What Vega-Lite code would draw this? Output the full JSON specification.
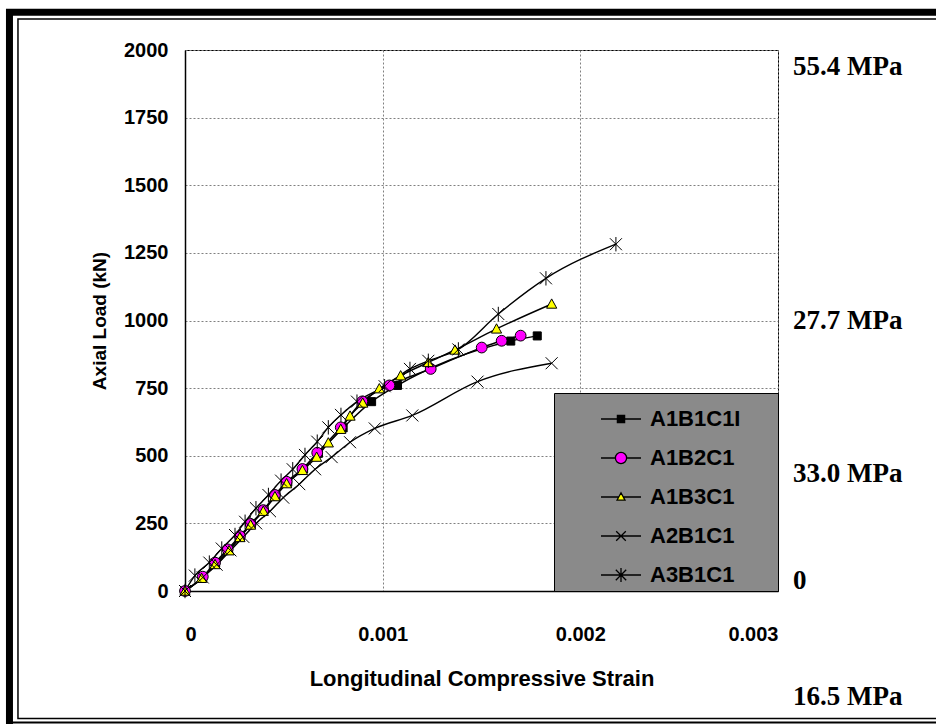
{
  "$schema": "https://vega.github.io/schema/vega-lite/v6.json",
  "width": 593,
  "height": 541,
  "autosize": {"type": "none"},
  "padding": {"left": 185, "top": 50, "right": 158, "bottom": 133},
  "background": "white",
  "datasets": {
    "tests": [
      {"series": "A1B1C1I", "strain": 0, "load": 0},
      {"series": "A1B1C1I", "strain": 0.00009, "load": 50},
      {"series": "A1B1C1I", "strain": 0.000155, "load": 103},
      {"series": "A1B1C1I", "strain": 0.00022, "load": 152},
      {"series": "A1B1C1I", "strain": 0.00028, "load": 201},
      {"series": "A1B1C1I", "strain": 0.000336, "load": 249},
      {"series": "A1B1C1I", "strain": 0.0004, "load": 300},
      {"series": "A1B1C1I", "strain": 0.00046, "load": 352},
      {"series": "A1B1C1I", "strain": 0.00052, "load": 402},
      {"series": "A1B1C1I", "strain": 0.0006, "load": 451},
      {"series": "A1B1C1I", "strain": 0.000675, "load": 509},
      {"series": "A1B1C1I", "strain": 0.0008, "load": 603},
      {"series": "A1B1C1I", "strain": 0.000944, "load": 700},
      {"series": "A1B1C1I", "strain": 0.001075, "load": 760},
      {"series": "A1B1C1I", "strain": 0.001648, "load": 924},
      {"series": "A1B1C1I", "strain": 0.001782, "load": 943},
      {"series": "A1B2C1", "strain": 0, "load": 0},
      {"series": "A1B2C1", "strain": 0.00009, "load": 53},
      {"series": "A1B2C1", "strain": 0.000152, "load": 105},
      {"series": "A1B2C1", "strain": 0.000216, "load": 154},
      {"series": "A1B2C1", "strain": 0.000278, "load": 203},
      {"series": "A1B2C1", "strain": 0.000332, "load": 248},
      {"series": "A1B2C1", "strain": 0.000396, "load": 299},
      {"series": "A1B2C1", "strain": 0.000455, "load": 355},
      {"series": "A1B2C1", "strain": 0.000514, "load": 404},
      {"series": "A1B2C1", "strain": 0.000594, "load": 451},
      {"series": "A1B2C1", "strain": 0.000669, "load": 511},
      {"series": "A1B2C1", "strain": 0.000788, "load": 605},
      {"series": "A1B2C1", "strain": 0.000897, "load": 701},
      {"series": "A1B2C1", "strain": 0.001034, "load": 760},
      {"series": "A1B2C1", "strain": 0.001243, "load": 821},
      {"series": "A1B2C1", "strain": 0.001501, "load": 900},
      {"series": "A1B2C1", "strain": 0.001602, "load": 925},
      {"series": "A1B2C1", "strain": 0.001698, "load": 944},
      {"series": "A1B3C1", "strain": 0, "load": 0},
      {"series": "A1B3C1", "strain": 0.000084, "load": 47},
      {"series": "A1B3C1", "strain": 0.000152, "load": 98},
      {"series": "A1B3C1", "strain": 0.000223, "load": 149},
      {"series": "A1B3C1", "strain": 0.000278, "load": 198},
      {"series": "A1B3C1", "strain": 0.000332, "load": 244},
      {"series": "A1B3C1", "strain": 0.000396, "load": 295},
      {"series": "A1B3C1", "strain": 0.000455, "load": 349},
      {"series": "A1B3C1", "strain": 0.000514, "load": 397},
      {"series": "A1B3C1", "strain": 0.000594, "load": 446},
      {"series": "A1B3C1", "strain": 0.000666, "load": 495},
      {"series": "A1B3C1", "strain": 0.000725, "load": 548},
      {"series": "A1B3C1", "strain": 0.000788, "load": 598},
      {"series": "A1B3C1", "strain": 0.000835, "load": 647},
      {"series": "A1B3C1", "strain": 0.000899, "load": 695},
      {"series": "A1B3C1", "strain": 0.000983, "load": 748},
      {"series": "A1B3C1", "strain": 0.001091, "load": 796},
      {"series": "A1B3C1", "strain": 0.001231, "load": 845},
      {"series": "A1B3C1", "strain": 0.001366, "load": 891},
      {"series": "A1B3C1", "strain": 0.001576, "load": 969},
      {"series": "A1B3C1", "strain": 0.001855, "load": 1061},
      {"series": "A2B1C1", "strain": 0, "load": 0},
      {"series": "A2B1C1", "strain": 0.00009, "load": 50},
      {"series": "A2B1C1", "strain": 0.00016, "load": 97},
      {"series": "A2B1C1", "strain": 0.00023, "load": 150},
      {"series": "A2B1C1", "strain": 0.000295, "load": 200},
      {"series": "A2B1C1", "strain": 0.00036, "load": 250},
      {"series": "A2B1C1", "strain": 0.00043, "load": 295},
      {"series": "A2B1C1", "strain": 0.000497, "load": 345},
      {"series": "A2B1C1", "strain": 0.000578, "load": 395},
      {"series": "A2B1C1", "strain": 0.000658, "load": 450},
      {"series": "A2B1C1", "strain": 0.000742, "load": 495},
      {"series": "A2B1C1", "strain": 0.000835, "load": 550},
      {"series": "A2B1C1", "strain": 0.00096, "load": 601},
      {"series": "A2B1C1", "strain": 0.00115, "load": 649},
      {"series": "A2B1C1", "strain": 0.00148, "load": 774},
      {"series": "A2B1C1", "strain": 0.001855, "load": 842},
      {"series": "A3B1C1", "strain": 0, "load": 0},
      {"series": "A3B1C1", "strain": 0.00005, "load": 57},
      {"series": "A3B1C1", "strain": 0.000123, "load": 105},
      {"series": "A3B1C1", "strain": 0.000186, "load": 157},
      {"series": "A3B1C1", "strain": 0.000253, "load": 207},
      {"series": "A3B1C1", "strain": 0.000304, "load": 256},
      {"series": "A3B1C1", "strain": 0.000359, "load": 306},
      {"series": "A3B1C1", "strain": 0.000422, "load": 355},
      {"series": "A3B1C1", "strain": 0.000486, "load": 408},
      {"series": "A3B1C1", "strain": 0.000545, "load": 450},
      {"series": "A3B1C1", "strain": 0.000607, "load": 503},
      {"series": "A3B1C1", "strain": 0.000669, "load": 552},
      {"series": "A3B1C1", "strain": 0.000725, "load": 605},
      {"series": "A3B1C1", "strain": 0.000789, "load": 651},
      {"series": "A3B1C1", "strain": 0.00087, "load": 700},
      {"series": "A3B1C1", "strain": 0.00101, "load": 757},
      {"series": "A3B1C1", "strain": 0.001138, "load": 821},
      {"series": "A3B1C1", "strain": 0.001231, "load": 851},
      {"series": "A3B1C1", "strain": 0.001383, "load": 893},
      {"series": "A3B1C1", "strain": 0.001585, "load": 1024},
      {"series": "A3B1C1", "strain": 0.001826, "load": 1156},
      {"series": "A3B1C1", "strain": 0.00218, "load": 1282}
    ],
    "stress": [
      {"strain": 0.003, "load": 1937, "label": "55.4 MPa"},
      {"strain": 0.003, "load": 998, "label": "27.7 MPa"},
      {"strain": 0.003, "load": 432, "label": "33.0 MPa"},
      {"strain": 0.003, "load": 37, "label": "0"},
      {"strain": 0.003, "load": -392, "label": "16.5 MPa"}
    ]
  },
  "layer": [
    {
      "data": {"name": "tests"},
      "mark": {"type": "line", "color": "black", "strokeWidth": 1.4, "interpolate": "monotone"},
      "encoding": {
        "x": {
          "field": "strain", "type": "quantitative",
          "scale": {"domain": [0, 0.003], "nice": false, "zero": false},
          "axis": {
            "title": "Longitudinal Compressive Strain",
            "values": [0, 0.001, 0.002, 0.003],
            "labelExpr": "datum.value == 0 ? '0' : format(datum.value, '.3f')",
            "labelFontSize": 20,
            "labelPadding": 33,
            "titleFontSize": 22,
            "titlePadding": 24,
            "grid": true,
            "gridDash": [2, 2]
          }
        },
        "y": {
          "field": "load", "type": "quantitative",
          "scale": {"domain": [0, 2000], "nice": false},
          "axis": {
            "title": "Axial Load (kN)",
            "values": [0, 250, 500, 750, 1000, 1250, 1500, 1750, 2000],
            "format": "d",
            "labelFontSize": 20,
            "labelPadding": 17,
            "titleFontSize": 19,
            "titlePadding": 14,
            "grid": true,
            "gridDash": [2, 2]
          }
        },
        "detail": {"field": "series"}
      }
    },
    {
      "data": {"name": "tests"},
      "transform": [{"filter": "datum.series === 'A1B1C1I'"}],
      "mark": {"type": "point", "shape": "M-0.67,-0.67H0.67V0.67H-0.67Z", "filled": true, "fill": "#000000", "stroke": "black", "strokeWidth": 1, "opacity": 1, "size": 144},
      "encoding": {
        "x": {"field": "strain", "type": "quantitative"},
        "y": {"field": "load", "type": "quantitative"}
      }
    },
    {
      "data": {"name": "tests"},
      "transform": [{"filter": "datum.series === 'A1B2C1'"}],
      "mark": {"type": "point", "shape": "M-0.9,0A0.9,0.9,0,1,1,0.9,0A0.9,0.9,0,1,1,-0.9,0Z", "filled": true, "fill": "#ff00ff", "stroke": "black", "strokeWidth": 1, "opacity": 1, "size": 144},
      "encoding": {
        "x": {"field": "strain", "type": "quantitative"},
        "y": {"field": "load", "type": "quantitative"}
      }
    },
    {
      "data": {"name": "tests"},
      "transform": [{"filter": "datum.series === 'A1B3C1'"}],
      "mark": {"type": "point", "shape": "M-0.85,0.7L0,-0.85L0.85,0.7Z", "filled": true, "fill": "#ffff00", "stroke": "black", "strokeWidth": 1, "opacity": 1, "size": 144},
      "encoding": {
        "x": {"field": "strain", "type": "quantitative"},
        "y": {"field": "load", "type": "quantitative"}
      }
    },
    {
      "data": {"name": "tests"},
      "transform": [{"filter": "datum.series === 'A2B1C1'"}],
      "mark": {"type": "point", "shape": "M-1,-1L1,1M-1,1L1,-1", "filled": false, "stroke": "black", "strokeWidth": 1, "opacity": 1, "size": 144},
      "encoding": {
        "x": {"field": "strain", "type": "quantitative"},
        "y": {"field": "load", "type": "quantitative"}
      }
    },
    {
      "data": {"name": "tests"},
      "transform": [{"filter": "datum.series === 'A3B1C1'"}],
      "mark": {"type": "point", "shape": "M-1,-1L1,1M-1,1L1,-1M0,-1.2V1.2", "filled": false, "stroke": "black", "strokeWidth": 1, "opacity": 1, "size": 144},
      "encoding": {
        "x": {"field": "strain", "type": "quantitative"},
        "y": {"field": "load", "type": "quantitative"}
      }
    },
    {
      "data": {"name": "tests"},
      "transform": [{"filter": "false"}],
      "mark": {"type": "point", "filled": true, "stroke": "black", "strokeWidth": 1.3, "opacity": 1},
      "encoding": {
        "x": {"field": "strain", "type": "quantitative"},
        "y": {"field": "load", "type": "quantitative"},
        "shape": {
          "field": "series", "type": "nominal",
          "scale": {
            "domain": ["A1B1C1I", "A1B2C1", "A1B3C1", "A2B1C1", "A3B1C1"],
            "range": [
              "M-1,0H1M-0.18,-0.18H0.18V0.18H-0.18Z",
              "M-1,0H-0.28M0.28,0H1M-0.28,0A0.28,0.28,0,1,1,0.28,0A0.28,0.28,0,1,1,-0.28,0Z",
              "M-1,0H-0.11M0.11,0H1M-0.2,0.16L0,-0.21L0.2,0.16Z",
              "M-1,0H1M-0.24,-0.24L0.24,0.24M-0.24,0.24L0.24,-0.24",
              "M-1,0H1M-0.26,-0.26L0.26,0.26M-0.26,0.26L0.26,-0.26M0,-0.35V0.35"
            ]
          },
          "legend": {
            "title": "\u00a0",
            "titleOrient": "left",
            "titleFontSize": 10,
            "titlePadding": 41,
            "orient": "bottom-right",
            "offset": 0,
            "padding": 5,
            "rowPadding": 7,
            "labelOffset": 8,
            "labelExpr": "datum.label + '\u2800\u2800'"
          }
        },
        "fill": {
          "field": "series", "type": "nominal",
          "scale": {
            "domain": ["A1B1C1I", "A1B2C1", "A1B3C1", "A2B1C1", "A3B1C1"],
            "range": ["#000000", "#ff00ff", "#ffff00", "transparent", "transparent"]
          },
          "legend": {
            "title": "\u00a0",
            "titleOrient": "left",
            "titleFontSize": 10,
            "titlePadding": 41,
            "orient": "bottom-right",
            "offset": 0,
            "padding": 5,
            "rowPadding": 7,
            "labelOffset": 8,
            "labelExpr": "datum.label + '\u2800\u2800'"
          }
        }
      }
    },
    {
      "data": {"name": "stress"},
      "mark": {"type": "text", "align": "left", "baseline": "middle", "dx": 15, "font": "Liberation Serif", "fontWeight": "bold", "fontSize": 27, "color": "black"},
      "encoding": {
        "x": {"field": "strain", "type": "quantitative"},
        "y": {"field": "load", "type": "quantitative"},
        "text": {"field": "label"}
      }
    },
    {
      "data": {"values": [{}]},
      "mark": {"type": "rect", "fillOpacity": 0, "stroke": "black", "strokeWidth": 7, "clip": false},
      "encoding": {
        "x": {"datum": -0.000888, "type": "quantitative"},
        "x2": {"datum": 0.003845},
        "y": {"datum": 2140, "type": "quantitative"},
        "y2": {"datum": -532}
      }
    },
    {
      "data": {"values": [{}]},
      "mark": {"type": "rect", "fillOpacity": 0, "stroke": "black", "strokeWidth": 2, "clip": false},
      "encoding": {
        "x": {"datum": -0.000888, "type": "quantitative"},
        "x2": {"datum": 0.003845},
        "y": {"datum": 2140, "type": "quantitative"},
        "y2": {"datum": -486}
      }
    },
    {
      "data": {"values": [{}]},
      "mark": {"type": "rect", "fillOpacity": 0, "stroke": "black", "strokeWidth": 1.5, "clip": false},
      "encoding": {
        "x": {"datum": -0.000845, "type": "quantitative"},
        "x2": {"datum": 0.003845},
        "y": {"datum": 2115, "type": "quantitative"},
        "y2": {"datum": -471}
      }
    }
  ],
  "config": {
    "font": "Liberation Sans",
    "view": {"stroke": "black", "strokeWidth": 1},
    "axis": {
      "labelFont": "Liberation Sans",
      "labelFontWeight": "bold",
      "labelColor": "black",
      "titleFont": "Liberation Sans",
      "titleFontWeight": "bold",
      "titleColor": "black",
      "domainColor": "black",
      "domainWidth": 1.5,
      "ticks": false,
      "tickSize": 0,
      "gridColor": "#808080",
      "gridWidth": 1,
      "gridOpacity": 1,
      "labelAngle": 0
    },
    "legend": {
      "labelFont": "Liberation Sans",
      "labelFontWeight": "bold",
      "labelFontSize": 22,
      "labelColor": "black",
      "symbolSize": 1600,
      "symbolStrokeWidth": 1.3,
      "fillColor": "#8a8a8a",
      "strokeColor": "black"
    }
  }
}
